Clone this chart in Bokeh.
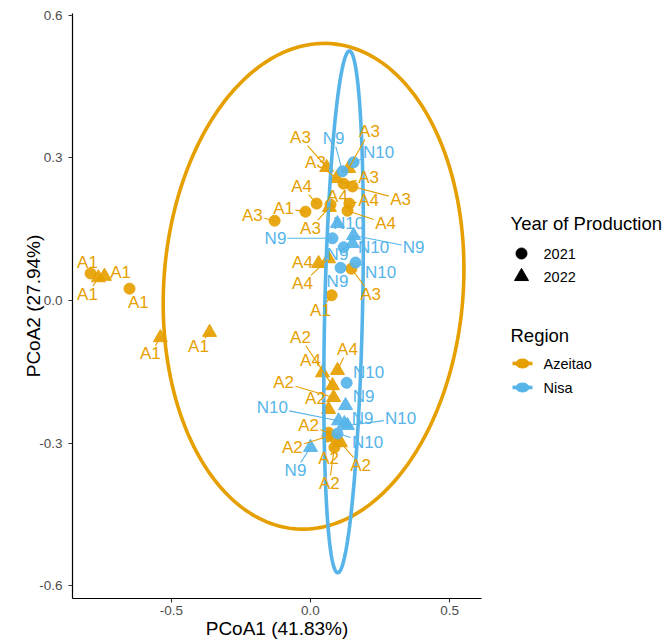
import numpy as np
from bokeh.plotting import figure
from bokeh.layouts import row
from bokeh.models import ColumnDataSource, FixedTicker, PrintfTickFormatter, Range1d
from bokeh.core.properties import value
from bokeh.embed import file_html
from bokeh.resources import INLINE

# ---------------- data ----------------
sample = ["A1", "A1", "A1", "A1", "A1", "A1", "A3", "A1", "A4", "A4",
          "A3", "A3", "N9", "A3", "N10", "A3", "A3", "A4", "A4", "A3",
          "N10", "N9", "N9", "N9", "N10", "A4", "A4", "N9", "N10", "A3",
          "A1", "A4", "A4", "N10", "A2", "A2", "N9", "A2", "N10", "N9",
          "N10", "N10", "A2", "A2", "A2", "N9", "A2", "A2"]
year = [2021, 2022, 2022, 2021, 2022, 2022, 2021, 2021, 2021, 2021,
        2022, 2022, 2021, 2022, 2021, 2021, 2021, 2021, 2021, 2022,
        2022, 2021, 2022, 2021, 2022, 2022, 2022, 2021, 2021, 2021,
        2021, 2022, 2022, 2021, 2022, 2022, 2022, 2022, 2022, 2022,
        2022, 2021, 2021, 2021, 2022, 2022, 2021, 2021]
pcoa1 = [-0.791, -0.763, -0.741, -0.651, -0.540, -0.363, -0.129, -0.018, 0.022, 0.072,
         0.058, 0.094, 0.115, 0.137, 0.155, 0.119, 0.151, 0.140, 0.133, 0.068,
         0.097, 0.079, 0.155, 0.119, 0.151, 0.029, 0.065, 0.108, 0.162, 0.147,
         0.076, 0.043, 0.097, 0.130, 0.079, 0.083, 0.126, 0.065, 0.101, 0.122,
         0.133, 0.097, 0.065, 0.061, 0.108, 0.000, 0.090, 0.086]
pcoa2 = [0.057, 0.048, 0.051, 0.025, -0.078, -0.067, 0.168, 0.187, 0.204, 0.202,
         0.280, 0.257, 0.272, 0.278, 0.291, 0.246, 0.240, 0.204, 0.189, 0.196,
         0.162, 0.131, 0.137, 0.112, 0.120, 0.078, 0.088, 0.069, 0.080, 0.067,
         0.011, -0.152, -0.147, -0.173, -0.179, -0.204, -0.221, -0.229, -0.253, -0.259,
         -0.263, -0.280, -0.278, -0.286, -0.299, -0.309, -0.291, -0.309]
# repelled label positions
label_x = [-0.802, -0.802, -0.683, -0.619, -0.576, -0.403, -0.209, -0.097, -0.032, 0.097,
           -0.036, 0.018, 0.083, 0.212, 0.245, 0.209, 0.324, 0.209, 0.270, 0.000,
           0.137, -0.126, 0.371, 0.097, 0.227, -0.029, -0.029, 0.097, 0.252, 0.216,
           0.036, 0.000, 0.133, 0.209, -0.036, -0.097, 0.191, 0.018, -0.137, 0.187,
           0.324, 0.205, -0.007, -0.065, 0.180, -0.054, 0.065, 0.068]
label_y = [0.080, 0.013, 0.059, -0.004, -0.112, -0.097, 0.179, 0.194, 0.240, 0.219,
           0.343, 0.291, 0.341, 0.356, 0.312, 0.259, 0.213, 0.211, 0.162, 0.152,
           0.162, 0.131, 0.112, 0.097, 0.112, 0.080, 0.036, 0.040, 0.059, 0.013,
           -0.021, -0.126, -0.103, -0.152, -0.078, -0.173, -0.202, -0.206, -0.225, -0.248,
           -0.248, -0.299, -0.263, -0.309, -0.347, -0.358, -0.333, -0.385]

regions = ["Azeitao", "Nisa"]
region_colors = ["#E69F00", "#56B4E9"]
years = [2021, 2022]
year_markers = ["circle", "triangle"]

# 95% ellipses (centre, semi-axes, shear terms)
ell_cx = [0.011, 0.119]
ell_cy = [0.030, -0.024]
ell_rx = [0.540, 0.068]
ell_ry = [0.511, 0.549]
ell_sx = [0.030, 0.021]
ell_sy = [0.008, 0.000]

x_ticks = [-0.5, 0.0, 0.5]
y_ticks = [-0.6, -0.3, 0.0, 0.3, 0.6]
x_title = "PCoA1 (41.83%)"
y_title = "PCoA2 (27.94%)"

FONT = "Liberation Sans"

# ---------------- main figure ----------------
p = figure(width=491, height=642,
           x_range=Range1d(-0.856, 0.615), y_range=Range1d(-0.627, 0.604),
           output_backend="svg", toolbar_location=None,
           min_border_left=72, min_border_right=10, min_border_top=13, min_border_bottom=44)
p.outline_line_color = None
p.xgrid.visible = False
p.ygrid.visible = False
p.background_fill_color = "white"

for ax in (p.xaxis[0], p.yaxis[0]):
    ax.axis_line_color = "black"
    ax.axis_line_width = 1.2
    ax.major_tick_line_color = "#333333"
    ax.major_tick_line_width = 1.1
    ax.major_tick_out = 4
    ax.major_tick_in = 0
    ax.minor_tick_line_color = None
    ax.major_label_text_font = FONT
    ax.major_label_text_font_size = "13.5px"
    ax.major_label_text_color = "#4D4D4D"
    ax.axis_label_text_font = FONT
    ax.axis_label_text_font_style = "normal"
    ax.axis_label_text_color = "black"
    ax.axis_label_text_font_size = "19px"
    ax.formatter = PrintfTickFormatter(format="%.1f")

p.xaxis[0].ticker = FixedTicker(ticks=x_ticks)
p.yaxis[0].ticker = FixedTicker(ticks=y_ticks)
p.xaxis[0].axis_label = x_title
p.yaxis[0].axis_label = y_title
p.xaxis[0].major_label_standoff = 3
p.xaxis[0].axis_label_standoff = 0
p.yaxis[0].major_label_standoff = 6
p.yaxis[0].axis_label_standoff = -8

region_of = ["Azeitao" if s.startswith("A") else "Nisa" for s in sample]
col_of = [region_colors[regions.index(r)] for r in region_of]
mark_of = [year_markers[years.index(y)] for y in year]
size_of = [11 if m == "circle" else 14 for m in mark_of]

# points (Azeitao first, Nisa on top)
for reg in regions:
    idx = [i for i, r in enumerate(region_of) if r == reg]
    src = ColumnDataSource(dict(
        x=[pcoa1[i] for i in idx], y=[pcoa2[i] for i in idx],
        marker=[mark_of[i] for i in idx], size=[size_of[i] for i in idx],
        color=[col_of[i] for i in idx]))
    p.scatter(x="x", y="y", marker="marker", size="size", fill_color="color",
              line_color="color", fill_alpha=0.92, line_alpha=0.92, source=src)

# ellipses
t = np.linspace(0, 2 * np.pi, 241)
for k, reg in enumerate(regions):
    ex = ell_cx[k] + ell_rx[k] * np.cos(t) + ell_sx[k] * np.sin(t)
    ey = ell_cy[k] + ell_ry[k] * np.sin(t) + ell_sy[k] * np.cos(t)
    p.line(ex, ey, line_color=region_colors[k], line_width=3.6)

# label segments (ggrepel style): from point to edge of label box
PX_X = 409 / 1.471
PX_Y = 585 / 1.231
FS = 17
seg_x0, seg_y0, seg_x1, seg_y1, seg_c = [], [], [], [], []
for i in range(len(sample)):
    dxp = (pcoa1[i] - label_x[i]) * PX_X
    dyp = (pcoa2[i] - label_y[i]) * PX_Y
    hw = 0.58 * FS * len(sample[i]) / 2 + 2
    hh = 0.72 * FS / 2 + 2
    if abs(dxp) <= hw and abs(dyp) <= hh:
        continue
    s = min(hw / abs(dxp) if dxp != 0 else 1e9, hh / abs(dyp) if dyp != 0 else 1e9)
    ex = label_x[i] + s * dxp / PX_X
    ey = label_y[i] + s * dyp / PX_Y
    length = np.hypot((pcoa1[i] - ex) * PX_X, (pcoa2[i] - ey) * PX_Y)
    if length < 7:
        continue
    seg_x0.append(pcoa1[i]); seg_y0.append(pcoa2[i])
    seg_x1.append(ex); seg_y1.append(ey); seg_c.append(col_of[i])
p.segment(x0="x0", y0="y0", x1="x1", y1="y1", line_color="c", line_width=1.1,
          source=ColumnDataSource(dict(x0=seg_x0, y0=seg_y0, x1=seg_x1, y1=seg_y1, c=seg_c)))

# labels
lab_src = ColumnDataSource(dict(x=label_x, y=label_y, text=sample, color=col_of))
p.text(x="x", y="y", text="text", text_color="color", source=lab_src,
       text_font=value(FONT), text_font_size=f"{FS}px",
       text_align="center", text_baseline="middle")

# ---------------- legend panel ----------------
# the row aligns this panel's frame with the main frame (page y 13..598)
LW, LH = 174, 642
leg = figure(width=LW, height=LH, x_range=Range1d(0, LW), y_range=Range1d(598, 13),
             output_backend="svg", toolbar_location=None, min_border=0,
             x_axis_type=None, y_axis_type=None)
leg.outline_line_color = None
leg.xgrid.visible = False
leg.ygrid.visible = False

leg.text(x=[19], y=[223], text=["Year of Production"], text_font=value(FONT),
         text_font_size="18.5px", text_color="black", text_baseline="middle")
for j, yr in enumerate(years):
    yy = 253 + 23 * j
    leg.scatter(x=[30], y=[yy], marker=year_markers[j], size=size_of[mark_of.index(year_markers[j])],
                fill_color="black", line_color="black")
    leg.text(x=[52], y=[yy], text=[str(yr)], text_font=value(FONT),
             text_font_size="14.5px", text_color="black", text_baseline="middle")

leg.text(x=[19], y=[335], text=["Region"], text_font=value(FONT),
         text_font_size="18.5px", text_color="black", text_baseline="middle")
for j, reg in enumerate(regions):
    yy = 363 + 24 * j
    leg.segment(x0=[21], y0=[yy], x1=[41], y1=[yy], line_color=region_colors[j], line_width=3.6)
    leg.ellipse(x=[31], y=[yy], width=13, height=9, fill_color=region_colors[j],
                line_color=region_colors[j])
    leg.text(x=[52], y=[yy], text=[reg], text_font=value(FONT),
             text_font_size="14.5px", text_color="black", text_baseline="middle")

layout = row(p, leg)
open("out.html", "w").write(file_html(layout, INLINE))
